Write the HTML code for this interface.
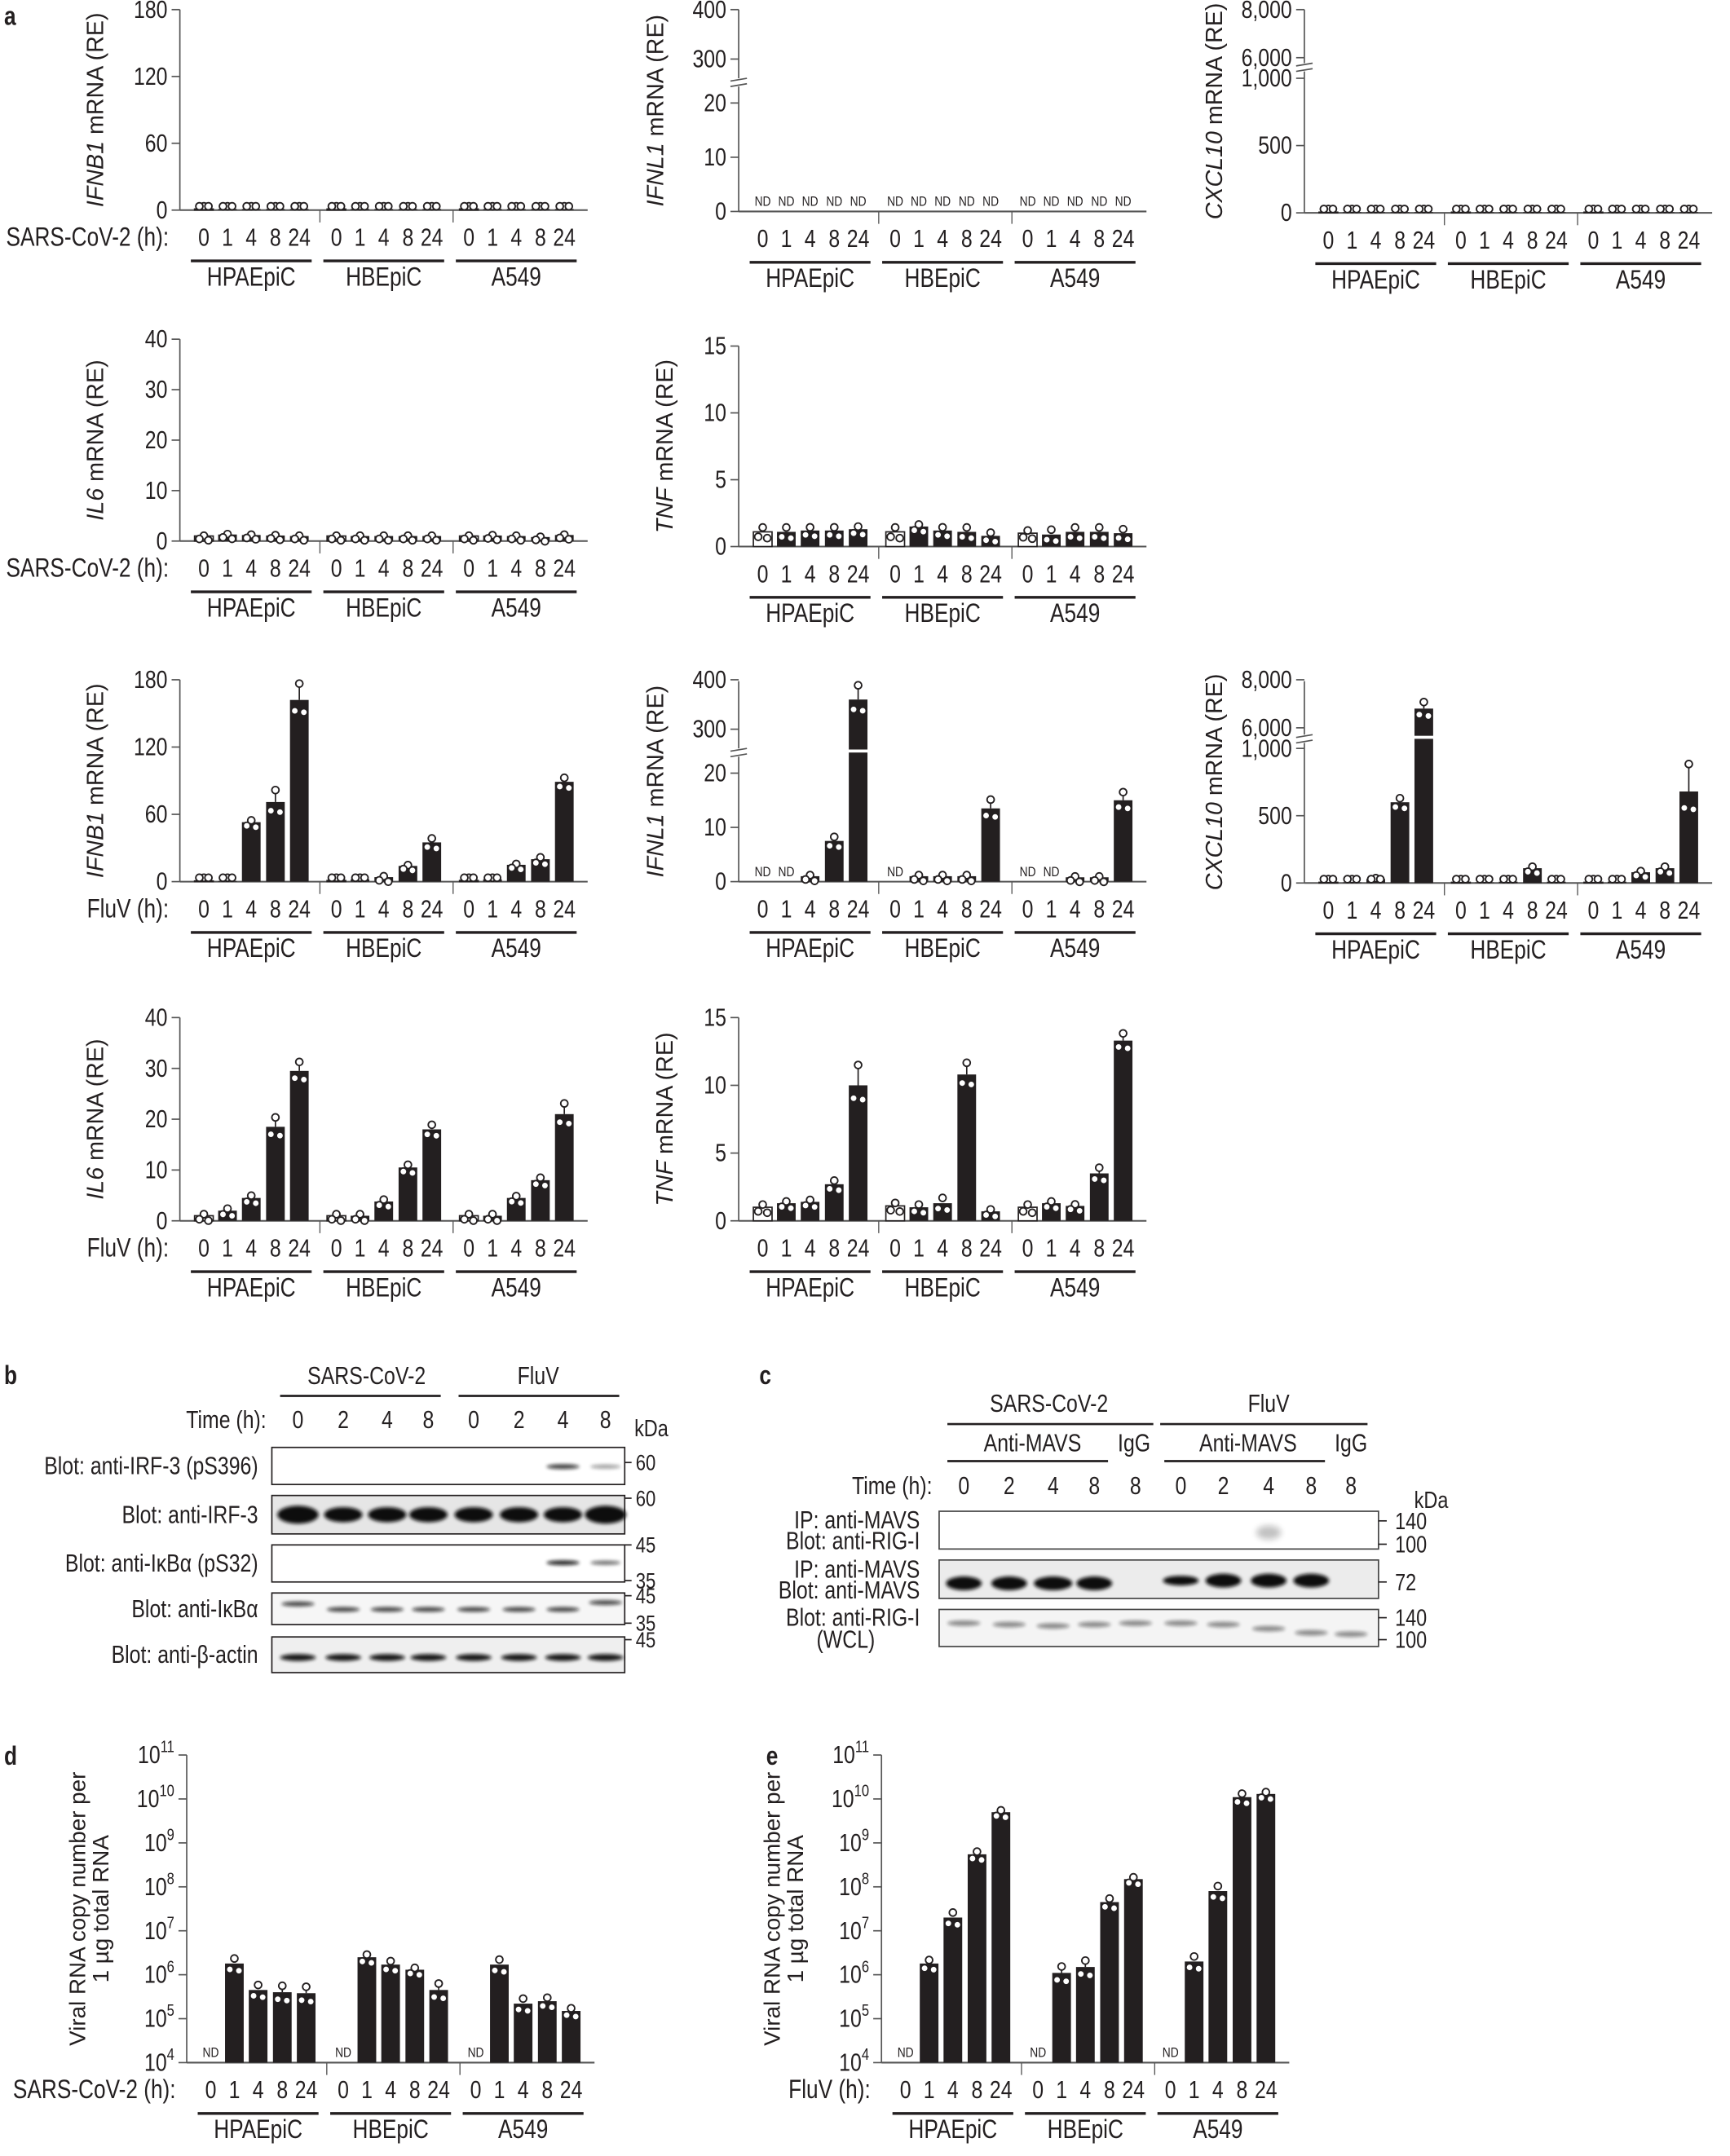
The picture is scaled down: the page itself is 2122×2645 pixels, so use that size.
<!DOCTYPE html>
<html><head><meta charset="utf-8">
<style>
html,body{margin:0;padding:0;background:#fff;}
svg{display:block;}
text{font-family:"Liberation Sans",sans-serif;fill:#231f20;}
</style></head>
<body>
<svg id="s" xmlns="http://www.w3.org/2000/svg" width="2122" height="2645" viewBox="0 0 1260 1570" preserveAspectRatio="none">
<defs>
<filter id="bl" x="-20%" y="-100%" width="140%" height="300%"><feGaussianBlur stdDeviation="1.3"/></filter>
<filter id="bl2" x="-20%" y="-100%" width="140%" height="300%"><feGaussianBlur stdDeviation="2.2"/></filter>
</defs>
<g id="g"></g>
</svg>
<script>
var G=document.getElementById('g'),out=[];
function T(x,y,s,o){o=o||{};
  var a=' font-size="'+(o.fs||17)+'" text-anchor="'+(o.a||'middle')+'"'+(o.w?' font-weight="bold"':'');
  if(o.tr){out.push('<text x="'+x+'" y="'+y+'"'+a+' transform="'+o.tr+'">'+s+'</text>');}
  else if(o.wide){out.push('<text x="'+x+'" y="'+y+'"'+a+'>'+s+'</text>');}
  else{out.push('<text x="0" y="0"'+a+' transform="translate('+x+' '+y+') scale(0.82 1)">'+s+'</text>');}
}
function L(x1,y1,x2,y2,w,c){out.push('<line x1="'+x1+'" y1="'+y1+'" x2="'+x2+'" y2="'+y2+'" stroke="'+(c||'#231f20')+'" stroke-width="'+(w||1)+'"/>');}
function R(x,y,w,h,f,st){out.push('<rect x="'+x+'" y="'+y+'" width="'+w+'" height="'+h+'" fill="'+f+'"'+(st?' stroke="#231f20" stroke-width="1"':'')+'/>');}
function C(x,y){out.push('<circle cx="'+x+'" cy="'+y+'" r="2.6" fill="#fff" stroke="#231f20" stroke-width="1.1"/>');}
var offs=[17.5,34.7,52,69.6,87];
function chart(o){
  var ax=o.ax,zy=o.zy,sc=o.sc,top=o.top;
  L(ax,top,ax,zy,1,'#555');
  o.ticks.forEach(function(t){var y=sc(t[0]);L(ax-6,y,ax,y,1,'#555');T(ax-9,y+6,t[1],{a:'end',fs:18});});
  L(ax,zy,ax+297,zy,1.2,'#555');
  L(ax+102,zy,ax+102,zy+9,0.8,'#555');L(ax+199,zy,ax+199,zy+9,0.8,'#555');
  for(var g=0;g<3;g++){
    for(var i=0;i<5;i++){
      var v=o.d[g*5+i],cx=ax+offs[i]+g*96.5;
      T(cx,zy+26,['0','1','4','8','24'][i],{fs:18});
      if(v===null){T(cx,zy-4,'ND',{fs:10});continue;}
      var y=sc(v);if(y>zy-0.5)y=zy-0.5;
      R(cx-6.8,y,13.6,zy-y,i==0&&o.white?'#fff':'#231f20',i==0&&o.white);
      if(o.brk&&y<o.brk-2){R(cx-8,o.brk-2.2,16,2.2,'#fff');}
      var j=o.j?o.j[g*5+i]:0.06;
      var vs=[v*(1+j),v*(1-j*0.5),v*(1-j*0.5)];
      var ys=vs.map(function(q){var yy=sc(q);return Math.min(yy,zy-2.8);});
      var mn=Math.min.apply(null,ys);
      if(y-mn>4){L(cx,y,cx,mn,1);L(cx-3,mn,cx+3,mn,1);}
      C(cx,ys[0]);C(cx-3.3,ys[1]+(ys[1]==zy-2.8?0:2));C(cx+3.3,ys[2]+(ys[2]==zy-2.8?0:3));
    }
    L(ax+8+g*96.5,zy+37,ax+96+g*96.5,zy+37,2);
    T(ax+52+g*96.5,zy+55,['HPAEpiC','HBEpiC','A549'][g],{fs:19});
  }
  if(o.brk){var b=o.brk;R(ax-3,b-3,6,6,'#fff');L(ax-6,b-1,ax+6,b-3,1,'#555');L(ax-6,b+3,ax+6,b+1,1,'#555');}
  if(o.xl)T(ax-8,zy+26,o.xl,{a:'end',fs:19});
  var lx=o.lx||ax-56,ly=o.ly||(zy+top)/2;
  if(o.title)T(lx,ly,o.title,{fs:17,tr:'rotate(-90 '+lx+' '+ly+')'});
}
function lin(zy,top,max){return function(v){return zy-v*(zy-top)/max;};}
function ifnl(zy){return function(v){return v<=20?zy-v*3.95:(zy-111)-(v-300)*0.36;};}
function cxcl(zy){return function(v){return v<=1000?zy-v*0.098:(zy-113)-(v-6000)*(35/2000);};}
var ones=[1,1,1,1,1,1,1,1,1,1,1,1,1,1,1];
var SX='SARS-CoV-2 (h):',FX='FluV (h):';
var TI=function(g){return '<tspan font-style="italic">'+g+'</tspan> mRNA (RE)';};
var N=null;
chart({ax:131,zy:153,top:7,sc:lin(153,7,180),ticks:[[0,'0'],[60,'60'],[120,'120'],[180,'180']],d:ones,xl:SX,title:TI('IFNB1'),white:1});
chart({ax:538,zy:154,top:7,sc:ifnl(154),ticks:[[0,'0'],[10,'10'],[20,'20'],[300,'300'],[400,'400']],d:[N,N,N,N,N,N,N,N,N,N,N,N,N,N,N],title:TI('IFNL1'),brk:60,lx:483});
chart({ax:950,zy:155,top:7,sc:cxcl(155),ticks:[[0,'0'],[500,'500'],[1000,'1,000'],[6000,'6,000'],[8000,'8,000']],d:ones,title:TI('CXCL10'),brk:49,lx:890,white:1});
chart({ax:131,zy:394,top:247,sc:lin(394,247,40),ticks:[[0,'0'],[10,'10'],[20,'20'],[30,'30'],[40,'40']],d:[1,1.3,1.2,1.1,1,1,1,1,1,1,1,1.1,1,0.8,1.2],xl:SX,title:TI('IL6'),white:1});
chart({ax:538,zy:398,top:252,sc:lin(398,252,15),ticks:[[0,'0'],[5,'5'],[10,'10'],[15,'15']],d:[1.1,1.1,1.2,1.2,1.3,1.1,1.5,1.2,1.1,0.8,1.0,0.9,1.1,1.1,1.0],title:TI('TNF'),lx:490,white:1,j:[.3,.3,.2,.2,.15,.3,.1,.2,.3,.3,.2,.4,.3,.3,.3]});
chart({ax:131,zy:642,top:495,sc:lin(642,495,180),ticks:[[0,'0'],[60,'60'],[120,'120'],[180,'180']],d:[0.5,0.5,53,71,162,1,2,4,14,35,1,2,15,20,89],xl:FX,title:TI('IFNB1'),white:1,j:[.1,.1,.03,.15,.09,.1,.1,.2,.05,.1,.1,.1,.05,.08,.04]});
chart({ax:538,zy:642,top:496,sc:ifnl(642),ticks:[[0,'0'],[10,'10'],[20,'20'],[300,'300'],[400,'400']],d:[N,N,1,7.5,360,N,1,1,1,13.5,N,N,0.8,0.8,15],title:TI('IFNL1'),brk:548,lx:483,j:[0,0,.2,.1,.08,0,.2,.2,.2,.12,0,0,.2,.2,.1]});
chart({ax:950,zy:643,top:496,sc:cxcl(643),ticks:[[0,'0'],[500,'500'],[1000,'1,000'],[6000,'6,000'],[8000,'8,000']],d:[5,5,30,600,6800,5,5,10,110,10,5,10,80,110,680],title:TI('CXCL10'),brk:538,lx:890,white:1,j:[.1,.1,.2,.05,.04,.1,.1,.2,.1,.1,.1,.1,.1,.1,.3]});
chart({ax:131,zy:889,top:741,sc:lin(889,741,40),ticks:[[0,'0'],[10,'10'],[20,'20'],[30,'30'],[40,'40']],d:[1,2,4.5,18.5,29.5,1,1,3.8,10.5,18,1,1,4.5,8,21],xl:FX,title:TI('IL6'),white:1,j:[.3,.2,.1,.1,.06,.3,.3,.1,.05,.05,.3,.3,.08,.06,.1]});
chart({ax:538,zy:889,top:741,sc:lin(889,741,15),ticks:[[0,'0'],[5,'5'],[10,'10'],[15,'15']],d:[1,1.3,1.4,2.7,10,1.1,1,1.3,10.8,0.7,1,1.3,1.1,3.5,13.3],title:TI('TNF'),lx:490,white:1,j:[.2,.1,.1,.1,.15,.2,.2,.3,.08,.2,.2,.1,.1,.12,.04]});
T(3,18,'a',{w:1,fs:19,a:'start'});
T(3,1008,'b',{w:1,fs:19,a:'start'});
T(553,1008,'c',{w:1,fs:19,a:'start'});
T(3,1285,'d',{w:1,fs:19,a:'start'});
T(558,1285,'e',{w:1,fs:19,a:'start'});
function logc(ax,d,xl,j){
  var zy=1502,sc=function(v){return zy-(Math.log10(v)-4)*32;};
  var ticks=[];for(var e=4;e<=11;e++){ticks.push([Math.pow(10,e),'10<tspan dy="-8" font-size="12">'+e+'</tspan>']);}
  chart({ax:ax,zy:zy,top:1278,sc:sc,ticks:ticks,d:d,xl:xl,title:'',j:j});
  var lx=ax-74,ly=1390;
  T(lx,ly,'Viral RNA copy number per',{fs:16.5,tr:'rotate(-90 '+lx+' '+ly+')'});
  T(lx+17,ly,'1 µg total RNA',{fs:16.5,tr:'rotate(-90 '+(lx+17)+' '+ly+')'});
}
logc(136,[N,1.8e6,4.5e5,4e5,3.8e5,N,2.5e6,1.7e6,1.3e6,4.5e5,N,1.7e6,2.2e5,2.5e5,1.5e5],SX,[0,.3,.3,.4,.4,0,.15,.2,.1,.4,0,.3,.3,.2,.15]);
logc(642,[N,1.8e6,2e7,5.5e8,5e9,N,1.1e6,1.5e6,4.5e7,1.5e8,N,2e6,8e7,1.1e10,1.3e10],FX,[0,.2,.3,.15,.1,0,.4,.4,.2,.1,0,.3,.3,.2,.1]);
var bF={fs:18};
T(267,1008,'SARS-CoV-2',bF);L(204,1016.5,321,1016.5,1.6);
T(392,1008,'FluV',bF);L(334,1016.5,451,1016.5,1.6);
T(194,1040,'Time (h):',{a:'end',fs:18});
var bl=[217,250,282,312,345,378,410,441];
['0','2','4','8','0','2','4','8'].forEach(function(s,i){T(bl[i],1040,s,bF);});
T(462,1046,'kDa',{a:'start',fs:17});
var boxes=[[1054,1081,'Blot: anti-IRF-3 (pS396)'],[1089,1117,'Blot: anti-IRF-3'],[1125,1152,'Blot: anti-IκBα (pS32)'],[1160,1183,'Blot: anti-IκBα'],[1192,1218,'Blot: anti-β-actin']];
boxes.forEach(function(b,k){
  out.push('<rect x="198" y="'+b[0]+'" width="257" height="'+(b[1]-b[0])+'" fill="'+(k==1?'#e6e6e6':k==3?'#f6f6f6':k==4?'#efefef':'#fff')+'" stroke="#231f20" stroke-width="1"/>');
  T(188,(b[0]+b[1])/2+6,b[2],{a:'end',fs:18});
});
function band(x,y,w,h,op,f){out.push('<ellipse cx="'+x+'" cy="'+y+'" rx="'+w/2+'" ry="'+h/2+'" fill="#111" opacity="'+op+'" filter="url(#'+(f||'bl')+')"/>');}
band(410,1068,24,3.5,.8);band(441,1068,22,3,.4);
bl.forEach(function(x,i){band(x,1103,i==0||i==7?30:28,i==0||i==7?13:11,1);});
band(410,1138,24,3.5,.9);band(441,1138,22,3,.6);
bl.forEach(function(x,i){band(x,i==0?1168:i==7?1167:1172,24,3.5,.75);});
bl.forEach(function(x,i){band(x,1207,26,5,.95);});
[[1065,'60'],[1091,'60'],[1125,'45'],[1151,'35'],[1162,'45'],[1182,'35'],[1194,'45']].forEach(function(m){L(455,m[0],460,m[0],1);T(463,m[0]+5.5,m[1],{a:'start',fs:16});});
T(764,1028,'SARS-CoV-2',bF);L(690,1037,840,1037,1.6);
T(924,1028,'FluV',bF);L(845,1037,996,1037,1.6);
T(752,1057,'Anti-MAVS',bF);L(690,1064,807,1064,1.6);T(826,1057,'IgG',bF);
T(909,1057,'Anti-MAVS',bF);L(848,1064,965,1064,1.6);T(984,1057,'IgG',bF);
T(679,1088,'Time (h):',{a:'end',fs:18});
var cl=[702,735,767,797,827,860,891,924,955,984];
['0','2','4','8','8','0','2','4','8','8'].forEach(function(s,i){T(cl[i],1088,s,bF);});
T(1030,1098,'kDa',{a:'start',fs:17});
[[1100.5,1128],[1136,1164],[1172,1199]].forEach(function(b,k){
  out.push('<rect x="684" y="'+b[0]+'" width="320" height="'+(b[1]-b[0])+'" fill="'+(k==1?'#ececec':k==2?'#f4f4f4':'#fff')+'" stroke="#444" stroke-width="1"/>');
});
band(924,1116,18,10,.25,'bl2');
cl.forEach(function(x,i){if(i==4||i==9)return;band(x,i<4?1153:1151,i==2?28:26,i==5?7:10,1);});
cl.forEach(function(x,i){band(x,[1182,1183,1184,1183,1182,1182,1183,1186,1189,1190][i],24,4,.45);});
T(670,1113,'IP: anti-MAVS',{a:'end',fs:18});T(670,1128,'Blot: anti-RIG-I',{a:'end',fs:18});
T(670,1149,'IP: anti-MAVS',{a:'end',fs:18});T(670,1164,'Blot: anti-MAVS',{a:'end',fs:18});
T(670,1184,'Blot: anti-RIG-I',{a:'end',fs:18});T(616,1200,'(WCL)',{fs:18});
[[1107.5,'140'],[1124.5,'100'],[1152,'72'],[1178,'140'],[1194,'100']].forEach(function(m){L(1004,m[0],1010,m[0],1);T(1016,m[0]+6,m[1],{a:'start',fs:17});});
G.innerHTML=out.join('');
</script>
</body></html>
